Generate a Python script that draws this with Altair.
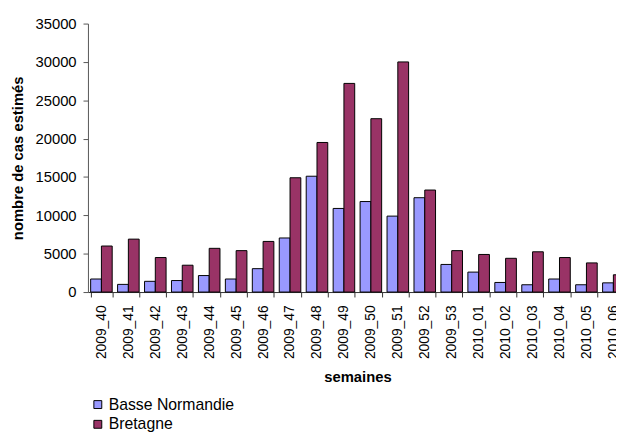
import altair as alt
import pandas as pd

weeks = ["2009_40", "2009_41", "2009_42", "2009_43", "2009_44", "2009_45", "2009_46",
         "2009_47", "2009_48", "2009_49", "2009_50", "2009_51", "2009_52", "2009_53",
         "2010_01", "2010_02", "2010_03", "2010_04", "2010_05", "2010_06"]
basse_normandie = [1700, 1000, 1400, 1500, 2150, 1700, 3050, 7050, 15100, 10900,
                   11800, 9900, 12300, 3600, 2600, 1250, 950, 1700, 950, 1200]
bretagne = [6000, 6900, 4500, 3500, 5700, 5400, 6600, 14900, 19500, 27200,
            22600, 30000, 13300, 5400, 4900, 4400, 5250, 4500, 3800, 2250]
regions = ["Basse Normandie", "Bretagne"]
colors = ["#9999FF", "#993366"]

rows = []
for w, a, b in zip(weeks, basse_normandie, bretagne):
    rows.append({"semaine": w, "region": regions[0], "cas": a})
    rows.append({"semaine": w, "region": regions[1], "cas": b})
df = pd.DataFrame(rows)

FONT = "Liberation Sans"

chart = alt.Chart(df).mark_bar(stroke="black", strokeWidth=1).encode(
    x=alt.X("semaine:N", sort=weeks,
            scale=alt.Scale(range=[0, 546], paddingInner=0.2, paddingOuter=0.1),
            axis=alt.Axis(title="semaines", labelAngle=-90, tickBand="extent",
                          labelFontSize=14, labelFont=FONT, labelColor="black",
                          labelPadding=8, tickSize=5, tickColor="#333",
                          domainColor="#333", titleFont=FONT, titleFontSize=15,
                          titleFontWeight="bold", titleColor="black", titlePadding=11)),
    xOffset=alt.XOffset("region:N", sort=regions),
    y=alt.Y("cas:Q", scale=alt.Scale(domain=[0, 35000]),
            axis=alt.Axis(title="nombre de cas estimés", values=list(range(0, 35001, 5000)),
                          format="d", grid=False, labelFontSize=15, labelFont=FONT,
                          labelColor="black", labelPadding=7, tickSize=5,
                          tickColor="#555", domainColor="#555", titleFont=FONT,
                          titleFontSize=15, titleFontWeight="bold", titleColor="black",
                          titlePadding=10)),
    color=alt.Color("region:N", sort=regions,
                    scale=alt.Scale(domain=regions, range=colors),
                    legend=alt.Legend(title=None, orient="none", legendX=2, legendY=378,
                                      symbolType="square", symbolSize=64,
                                      symbolStrokeColor="black", symbolStrokeWidth=1,
                                      labelFont=FONT, labelFontSize=16, labelColor="black",
                                      labelOffset=3, rowPadding=4, padding=0)),
).properties(
    width=535, height=272,
    autosize=alt.AutoSizeParams(type="none"),
    padding={"left": 81, "top": 13, "right": 0, "bottom": 139},
).configure_view(stroke=None)

chart.save("out.html", embed_options={"renderer": "svg", "actions": False})
